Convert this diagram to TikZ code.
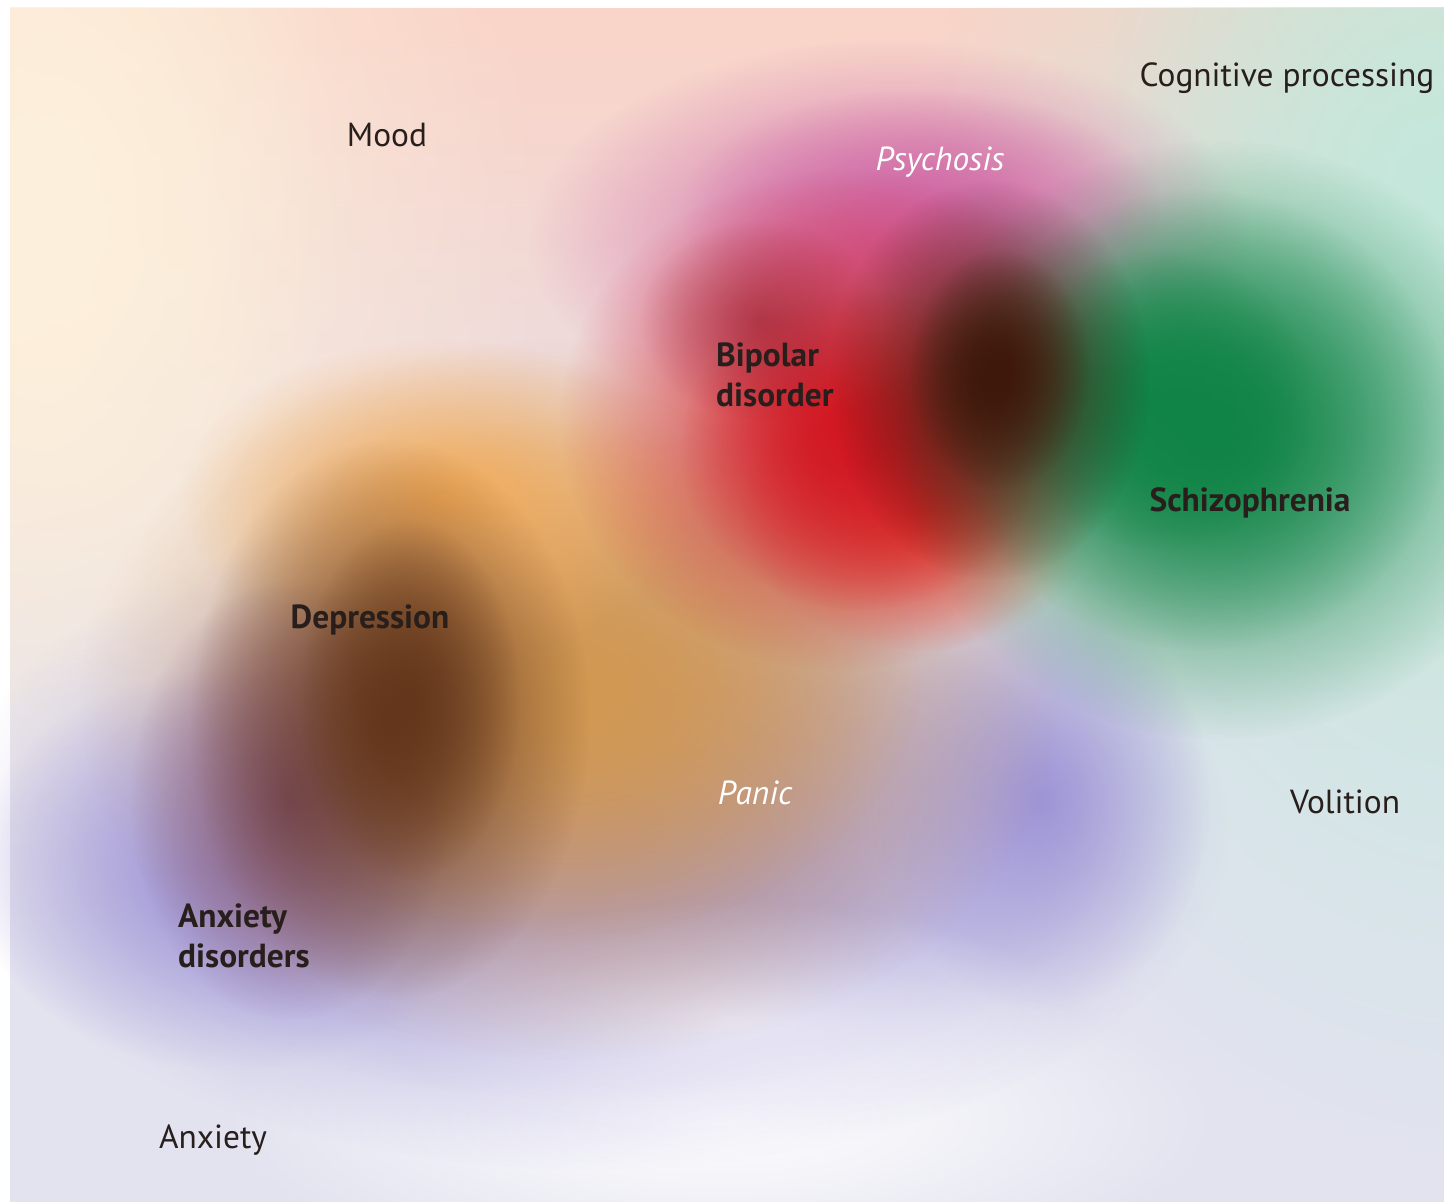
\documentclass[tikz,border=0pt]{standalone}
\usepackage{fontspec}
\setmainfont{PT Sans}
\usepackage{tikz}
\usepackage{xcolor}
\usetikzlibrary{fadings, positioning}

\definecolor{lavbg}{RGB}{227,227,240}
\definecolor{warmtop}{RGB}{250,212,200}
\definecolor{cream}{RGB}{253,240,220}
\definecolor{mint}{RGB}{196,232,220}
\definecolor{lavender}{RGB}{158,148,214}
\definecolor{tan}{RGB}{210,152,82}
\definecolor{ochre}{RGB}{244,172,88}
\definecolor{umber}{RGB}{100,55,28}
\definecolor{plum}{RGB}{128,82,112}
\definecolor{rose}{RGB}{208,104,166}
\definecolor{maroon}{RGB}{150,30,45}
\definecolor{crimson}{RGB}{210,24,34}
\definecolor{tomato}{RGB}{232,84,52}
\definecolor{leaf}{RGB}{16,132,70}
\definecolor{bark}{RGB}{62,24,10}
\definecolor{inkdark}{RGB}{40,30,28}

\tikzfading[name=fadedown, top color=transparent!0, bottom color=transparent!100]
\tikzfading[name=softout, inner color=transparent!0, outer color=transparent!100]

\begin{document}
\begin{tikzpicture}[
    blob/.style={path fading=softout},
    lbl/.style={font=\fontsize{9.5}{11.3}\selectfont, text=inkdark, inner sep=1pt},
    dis/.style={lbl, font=\fontsize{9.5}{11.3}\selectfont\bfseries, align=left},
    sym/.style={lbl, font=\fontsize{9.5}{11.3}\selectfont\itshape, text=white}
]
\useasboundingbox (0,0) rectangle (14.44,-12.02);
\fill[white] (0,0) rectangle (14.44,-12.02);

% background
\begin{scope}
\clip (0.1,-0.08) rectangle (14.44,-12.02);
\fill[lavbg] (0.1,-0.08) rectangle (14.44,-12.02);
\fill[warmtop, path fading=fadedown] (0.1,-0.08) rectangle (14.44,-7.5);
\fill[cream, blob] (0,-2.5) ellipse (5.5 and 7);
\fill[cream, blob] (0.5,-2) ellipse (3 and 5);
\fill[mint, blob] (14.8,-3.8) ellipse (6 and 8);
\fill[mint, blob] (14.4,-2) ellipse (3.5 and 5);
\fill[white, blob] (7.2,-11.2) ellipse (5 and 1.6);
\end{scope}

% anxiety
\fill[lavender, blob] (5.9,-8.3) ellipse (6.4 and 3.4);
\fill[lavender, blob, opacity=.7] (5.9,-8.4) ellipse (5.2 and 2.6);
\fill[lavender, blob] (2.3,-8.7) ellipse (2.6 and 2);
\fill[lavender, blob] (10.4,-8.0) ellipse (1.7 and 2.1);
\fill[white, blob, opacity=.6] (7.3,-10.2) ellipse (3.5 and 1.2);

% mood
\fill[tan, blob] (5.7,-7.0) ellipse (4.9 and 3.6);
\fill[tan, blob] (5.6,-6.8) ellipse (3.6 and 2.6);
\fill[ochre, blob] (4.4,-5.0) ellipse (2.6 and 1.6);
\fill[plum, blob] (2.9,-8.0) ellipse (1.6 and 2.2);
\fill[umber, blob] (3.9,-7.2) ellipse (2.0 and 2.8);
\fill[umber, blob] (4.1,-7.0) ellipse (1.1 and 1.8);

% psychosis
\fill[rose, blob] (8.9,-2.4) ellipse (3.6 and 2.0);
\fill[rose, blob] (9.2,-2.1) ellipse (2.4 and 1.2);

% bipolar
\fill[tomato, blob] (9.2,-5.1) ellipse (1.8 and 1.4);
\fill[crimson, blob] (8.4,-4.2) ellipse (2.8 and 2.5);
\fill[crimson, blob] (8.6,-4.5) ellipse (1.8 and 1.6);
\fill[maroon, blob, opacity=.6] (7.6,-3.2) ellipse (1.2 and 1.0);

% schizophrenia
\fill[leaf, blob] (12.2,-4.4) ellipse (3.2 and 3.0);
\fill[leaf, blob] (12.0,-4.2) ellipse (2.5 and 2.3);
\fill[leaf, blob] (11.6,-4.0) ellipse (1.5 and 1.5);
\fill[bark, blob] (9.9,-3.8) ellipse (1.6 and 2.0);
\fill[bark, blob] (10.0,-3.7) ellipse (0.9 and 1.2);

% labels
\node[lbl] (mood) at (3.87,-1.35) {Mood};
\node[lbl] (cog) at (12.87,-0.78) {Cognitive processing};
\node[lbl] (vol) at (13.45,-8.02) {Volition};
\node[lbl] (anx) at (2.13,-11.40) {Anxiety};
\node[sym] (psy) at (9.40,-1.62) {Psychosis};
\node[sym] (panic) at (7.55,-7.93) {Panic};
\node[dis, anchor=west] (bip) at (7.12,-3.75) {Bipolar\\disorder};
\node[dis] (schizo) at (12.50,-5.03) {Schizophrenia};
\node[dis] (dep) at (3.70,-6.20) {Depression};
\node[dis, anchor=west] (anxd) at (1.74,-9.36) {Anxiety\\disorders};
\end{tikzpicture}
\end{document}
